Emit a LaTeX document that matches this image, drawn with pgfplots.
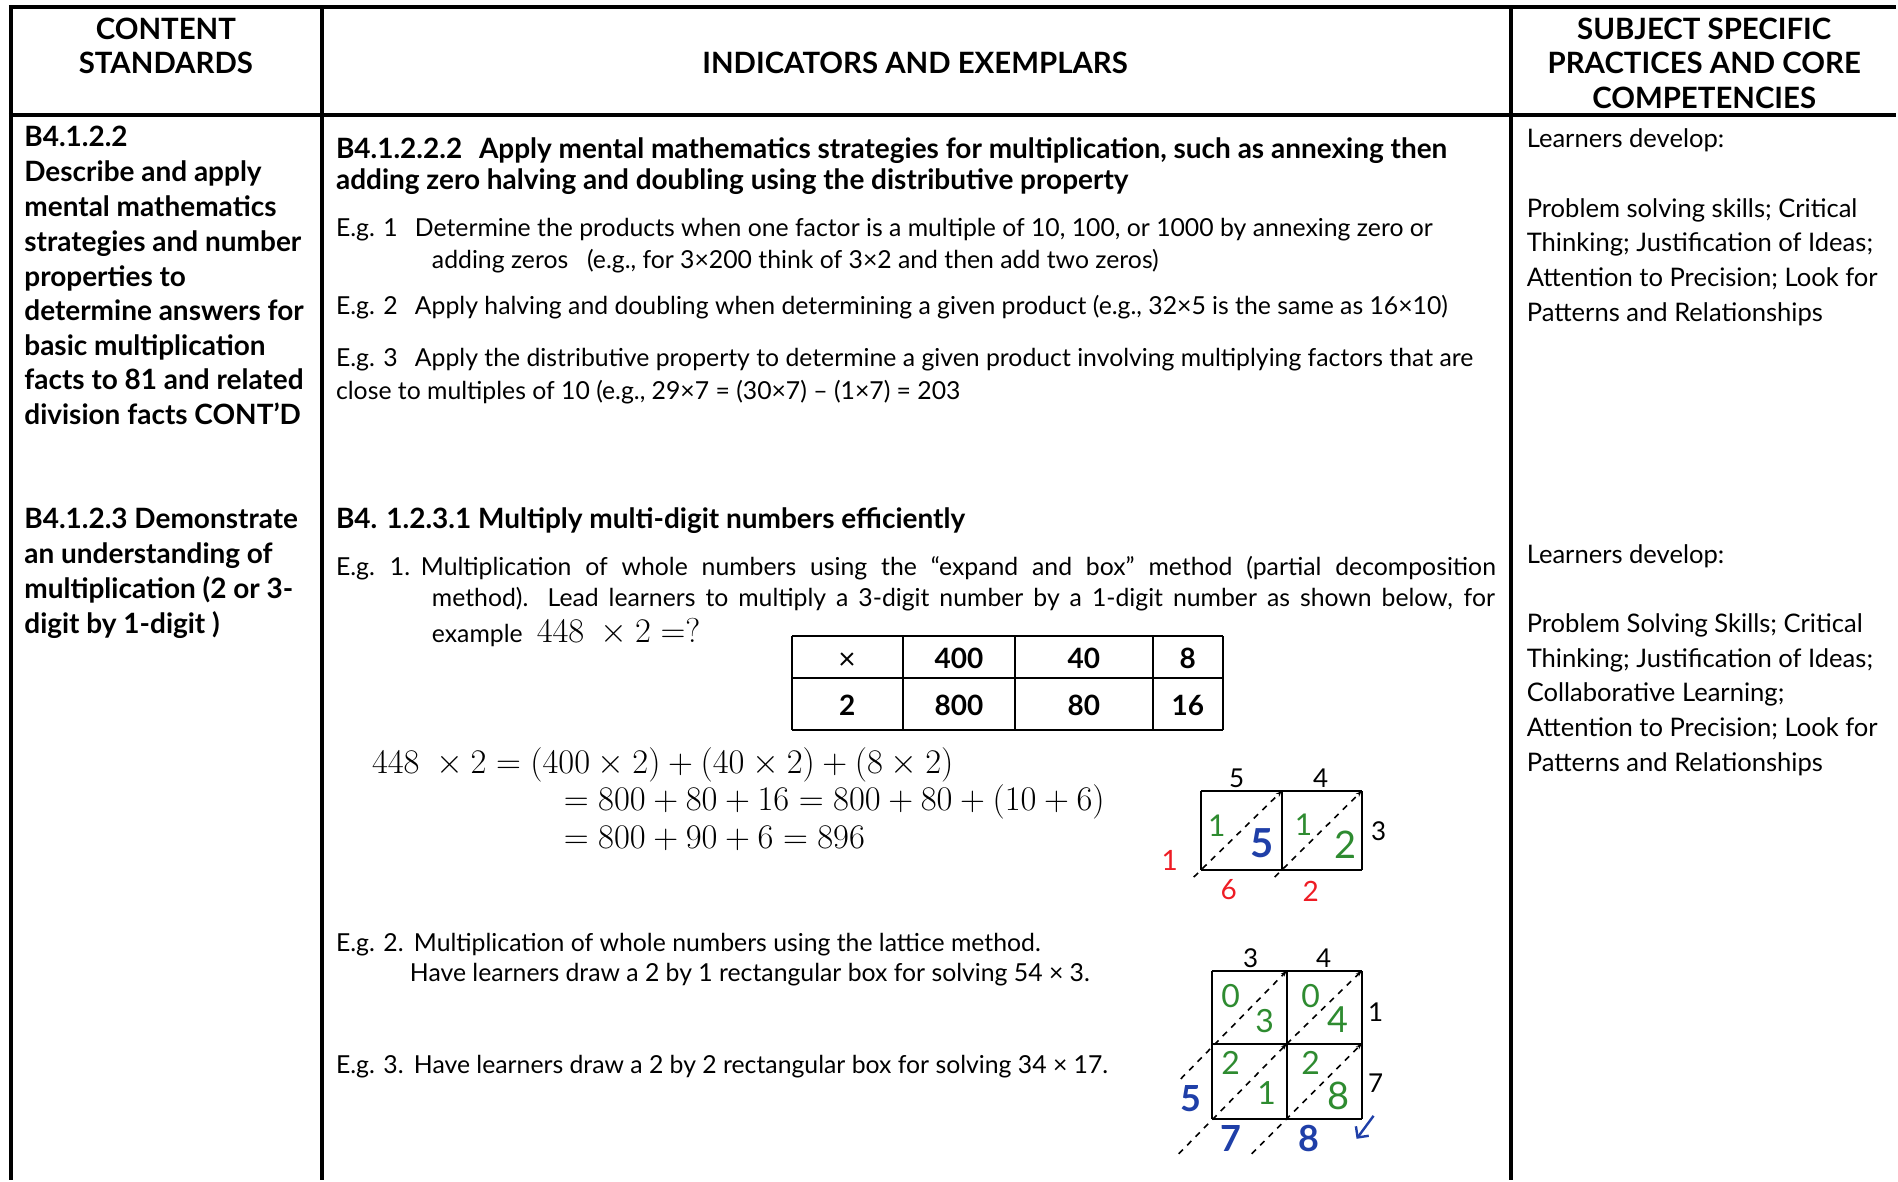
\documentclass[border=0pt]{standalone}
\usepackage{fontspec}
\setmainfont{Lato}
\usepackage{pgfplots}
\pgfplotsset{compat=1.18}
\usetikzlibrary{arrows.meta}
\definecolor{hgreen}{HTML}{2E8B30}
\definecolor{hblue}{HTML}{1F3FA8}
\definecolor{hred}{HTML}{EE1C24}
% text helpers
\newcommand{\fr}{\fontsize{12.8}{15}\selectfont}
\newcommand{\fe}{\fontsize{12.4}{15}\selectfont}
\newcommand{\fb}{\fontsize{14}{15}\selectfont\bfseries}
\newcommand{\fc}{\fontsize{14}{15}\selectfont\bfseries}
\newcommand{\fh}{\fontsize{14.7}{15}\selectfont\bfseries}
\newcommand{\T}[4][]{\node[anchor=mid west, inner sep=0pt, yshift=-3pt, #1] at (axis cs:#2,#3) {#4};}
\newcommand{\C}[4][]{\node[anchor=mid, inner sep=0pt, yshift=-3pt, #1] at (axis cs:#2,#3) {#4};}
\newcommand{\seg}[5][]{\addplot[mark=none, #1] coordinates {(#2,#3) (#4,#5)};}
\begin{document}
\begin{tikzpicture}
\begin{axis}[
  width=949pt, height=590.5pt, scale only axis,
  xmin=0, xmax=1898, ymin=0, ymax=1181, y dir=reverse,
  hide axis, clip=false,
]
\addplot[draw=none, mark=none] coordinates {(0,0) (1898,1181)};
%--- main table rules
\seg[black, line width=2pt]{9}{7}{1898}{7}
\seg[black, line width=2pt]{9}{115}{1898}{115}
\seg[black, line width=2pt]{11}{6}{11}{1181}
\seg[black, line width=2pt]{322}{6}{322}{1181}
\seg[black, line width=2pt]{1513}{6}{1513}{1181}
%--- header
\C{166}{28}{\fh CONTENT}
\C{166}{63}{\fh STANDARDS}
\C{916}{63}{\fh INDICATORS AND EXEMPLARS}
\C{1706}{28}{\fh SUBJECT SPECIFIC}
\C{1706}{63}{\fh PRACTICES AND CORE}
\C{1706}{98}{\fh COMPETENCIES}
%--- column 1
\T{24}{136}{\fc B4.1.2.2}
\T{24}{171}{\fc Describe and apply}
\T{24}{206}{\fc mental mathematics}
\T{24}{241}{\fc strategies and number}
\T{24}{276}{\fc properties to}
\T{24}{310}{\fc determine answers for}
\T{24}{345}{\fc basic multiplication}
\T{24}{379}{\fc facts to 81 and related}
\T{24}{414}{\fc division facts CONT’D}
\T{24}{518}{\fc B4.1.2.3 Demonstrate}
\T{24}{553}{\fc an understanding of}
\T{24}{588}{\fc multiplication (2 or 3-}
\T{24}{623}{\fc digit by 1-digit )}
%--- column 2, first row
\T{336}{148}{\fb B4.1.2.2.2\hspace{0.6em}Apply mental mathematics strategies for multiplication, such as annexing then}
\T{336}{179}{\fb adding zero halving and doubling using the distributive property}
\T{336}{226}{\fe E.g. 1}
\T{415}{226}{\fe Determine the products when one factor is a multiple of 10, 100, or 1000 by annexing zero or}
\T{432}{258}{\fe adding zeros\hspace{0.5em} (e.g., for 3×200 think of 3×2 and then add two zeros)}
\T{336}{304}{\fe E.g. 2}
\T{415}{304}{\fe Apply halving and doubling when determining a given product (e.g., 32×5 is the same as 16×10)}
\T{336}{356}{\fe E.g. 3}
\T{415}{356}{\fe Apply the distributive property to determine a given product involving multiplying factors that are}
\T{336}{389}{\fe close to multiples of 10 (e.g., 29×7 = (30×7) – (1×7) = 203}
%--- column 2, second row
\T{336}{518}{\fb B4. 1.2.3.1 Multiply multi-digit numbers efficiently}
\T{336}{565}{\fe E.g.}
\T{390}{565}{\fe 1.}
\T{421}{565}{\fe \makebox[538pt][s]{Multiplication of whole numbers using the “expand and box” method (partial decomposition}}
\T{432}{596}{\fe \makebox[532pt][s]{method). Lead learners to multiply a 3-digit number by a 1-digit number as shown below, for}}
\T{432}{632}{\fe example}
\T{537}{632}{\fontsize{17}{18}\selectfont $448\ \times 2 =?$}
% expand and box table
\seg[black, line width=1.1pt]{793}{637}{1224}{637}
\seg[black, line width=1.1pt]{793}{679}{1224}{679}
\seg[black, line width=1.1pt]{793}{731}{1224}{731}
\seg[black, line width=1.1pt]{793}{637}{793}{731}
\seg[black, line width=1.1pt]{904}{637}{904}{731}
\seg[black, line width=1.1pt]{1016}{637}{1016}{731}
\seg[black, line width=1.1pt]{1154}{637}{1154}{731}
\seg[black, line width=1.1pt]{1224}{637}{1224}{731}
\C{848}{659}{\fontsize{15}{16}\selectfont ×}
\C{960}{658}{\fb 400}
\C{1085}{658}{\fb 40}
\C{1189}{658}{\fb 8}
\C{848}{705}{\fb 2}
\C{960}{705}{\fb 800}
\C{1085}{705}{\fb 80}
\C{1189}{705}{\fb 16}
% worked equation
\T{372}{763}{\fontsize{17.5}{18}\selectfont $448\ \times 2 = (400 \times 2) + (40 \times 2) + (8 \times 2)$}
\T{564}{800}{\fontsize{17.5}{18}\selectfont $= 800 + 80 + 16 = 800 + 80 + (10 + 6)$}
\T{564}{838}{\fontsize{17.5}{18}\selectfont $= 800 + 90 + 6 = 896$}
\T{336}{941}{\fe E.g. 2.}
\T{414}{941}{\fe Multiplication of whole numbers using the lattice method.}
\T{410}{971}{\fe Have learners draw a 2 by 1 rectangular box for solving 54 × 3.}
\T{336}{1064}{\fe E.g. 3.}
\T{414}{1064}{\fe Have learners draw a 2 by 2 rectangular box for solving 34 × 17.}
%--- lattice 54 x 3
\seg[black, line width=1pt]{1202}{792}{1363}{792}
\seg[black, line width=1pt]{1202}{871}{1363}{871}
\seg[black, line width=1pt]{1202}{792}{1202}{871}
\seg[black, line width=1pt]{1283}{792}{1283}{871}
\seg[black, line width=1pt]{1363}{792}{1363}{871}
\seg[black, line width=0.8pt, dashed, -{Stealth[length=3pt]}]{1195}{878}{1283}{792}
\seg[black, line width=0.8pt, dashed, -{Stealth[length=3pt]}]{1276}{878}{1363}{792}
\C{1238}{777}{\fontsize{13}{14}\selectfont 5}
\C{1322}{777}{\fontsize{13}{14}\selectfont 4}
\C{1380}{830}{\fontsize{13}{14}\selectfont 3}
\C{1218}{826}{\fontsize{15}{16}\selectfont\color{hgreen}1}
\C{1263}{847}{\fontsize{20}{20}\selectfont\bfseries\color{hblue}5}
\C{1305}{825}{\fontsize{15}{16}\selectfont\color{hgreen}1}
\C{1347}{848}{\fontsize{19}{20}\selectfont\color{hgreen}2}
\C{1171}{860}{\fontsize{14}{15}\selectfont\color{hred}1}
\C{1230}{889}{\fontsize{14}{15}\selectfont\color{hred}6}
\C{1312}{891}{\fontsize{14}{15}\selectfont\color{hred}2}
%--- lattice 34 x 17
\seg[black, line width=1pt]{1213}{972}{1363}{972}
\seg[black, line width=1pt]{1213}{1045}{1363}{1045}
\seg[black, line width=1pt]{1213}{1120}{1363}{1120}
\seg[black, line width=1pt]{1213}{972}{1213}{1120}
\seg[black, line width=1pt]{1288}{972}{1288}{1120}
\seg[black, line width=1pt]{1363}{972}{1363}{1120}
\seg[black, line width=0.8pt, dashed, -{Stealth[length=3pt]}]{1182}{1080}{1288}{972}
\seg[black, line width=0.8pt, dashed, -{Stealth[length=3pt]}]{1180}{1155}{1288}{1045}
\seg[black, line width=0.8pt, dashed, -{Stealth[length=3pt]}]{1288}{1045}{1363}{972}
\seg[black, line width=0.8pt, dashed, -{Stealth[length=3pt]}]{1253}{1155}{1363}{1045}
\C{1252}{957}{\fontsize{13}{14}\selectfont 3}
\C{1325}{957}{\fontsize{13}{14}\selectfont 4}
\C{1377}{1011}{\fontsize{13}{14}\selectfont 1}
\C{1377}{1083}{\fontsize{13}{14}\selectfont 7}
\C{1232}{997}{\fontsize{16}{16}\selectfont\color{hgreen}0}
\C{1266}{1023}{\fontsize{16}{16}\selectfont\color{hgreen}3}
\C{1312}{997}{\fontsize{16}{16}\selectfont\color{hgreen}0}
\C{1339}{1023}{\fontsize{18}{18}\selectfont\color{hgreen}4}
\C{1232}{1065}{\fontsize{16}{16}\selectfont\color{hgreen}2}
\C{1268}{1095}{\fontsize{16}{16}\selectfont\color{hgreen}1}
\C{1312}{1065}{\fontsize{16}{16}\selectfont\color{hgreen}2}
\C{1340}{1100}{\fontsize{19}{19}\selectfont\color{hgreen}8}
\C{1192}{1102}{\fontsize{18}{18}\selectfont\bfseries\color{hblue}5}
\C{1232}{1142}{\fontsize{18}{18}\selectfont\bfseries\color{hblue}7}
\C{1310}{1142}{\fontsize{18}{18}\selectfont\bfseries\color{hblue}8}
\seg[hblue, line width=1.2pt, -{Straight Barb[length=4pt]}]{1375}{1117}{1358}{1140}
%--- column 3
\T{1528}{137}{\fr Learners develop:}
\T{1528}{207}{\fr Problem solving skills; Critical}
\T{1528}{241}{\fr Thinking; Justification of Ideas;}
\T{1528}{276}{\fr Attention to Precision; Look for}
\T{1528}{311}{\fr Patterns and Relationships}
\T{1528}{553}{\fr Learners develop:}
\T{1528}{622}{\fr Problem Solving Skills; Critical}
\T{1528}{657}{\fr Thinking; Justification of Ideas;}
\T{1528}{691}{\fr Collaborative Learning;}
\T{1528}{726}{\fr Attention to Precision; Look for}
\T{1528}{761}{\fr Patterns and Relationships}
\end{axis}
\end{tikzpicture}
\end{document}
